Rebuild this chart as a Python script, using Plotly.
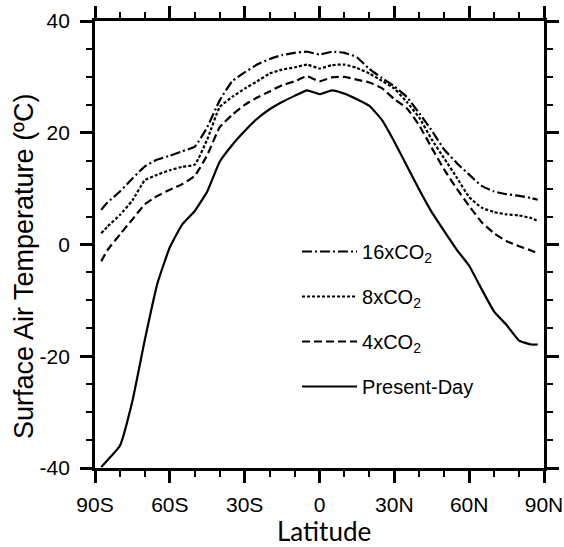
import plotly.graph_objects as go

lat = [-87.5, -85, -80, -75, -70, -65, -60, -55, -50, -45, -40, -35, -30, -25, -20, -15, -10, -5, 0,
       5, 10, 15, 20, 25, 30, 35, 40, 45, 50, 55, 60, 65, 70, 75, 80, 85, 87.5]

present_day = [-39.8, -38.6, -36.0, -28.0, -17.0, -7.0, -0.5, 3.6, 6.0, 9.5, 14.8, 17.8, 20.3, 22.5, 24.2,
               25.5, 26.6, 27.6, 26.9, 27.6, 27.0, 26.0, 24.8, 22.3, 18.4, 14.1, 9.8, 5.8, 2.4, -0.9,
               -3.8, -8.0, -12.0, -14.4, -17.2, -17.9, -17.9]
co2_4x = [-3.0, -1.0, 1.8, 4.5, 7.2, 8.7, 9.8, 10.8, 12.3, 16.0, 21.0, 23.2, 25.0, 26.3, 27.4, 28.5,
          29.2, 30.1, 29.2, 29.9, 30.0, 29.5, 29.0, 28.0, 26.0, 24.4, 21.3, 17.3, 13.4, 10.0, 6.9,
          4.0, 2.0, 0.6, -0.3, -1.1, -1.6]
co2_8x = [2.0, 3.2, 5.3, 7.9, 11.5, 12.5, 13.3, 13.9, 14.3, 18.8, 24.6, 26.4, 27.9, 29.2, 30.6, 31.3,
          31.7, 32.2, 31.5, 32.1, 32.2, 31.6, 30.6, 29.3, 27.9, 25.5, 22.7, 18.8, 15.4, 12.0, 8.5,
          6.6, 5.8, 5.4, 5.2, 4.7, 4.2]
co2_16x = [6.2, 7.5, 9.5, 11.8, 14.0, 15.2, 15.9, 16.7, 17.5, 21.0, 25.8, 29.2, 30.8, 32.2, 33.2, 33.9,
           34.3, 34.5, 34.0, 34.5, 34.3, 33.5, 31.4, 29.8, 28.3, 26.4, 23.5, 20.4, 17.0, 14.6, 12.5,
           10.5, 9.5, 9.0, 8.7, 8.3, 8.0]

series_names = ["16xCO<sub>2</sub>", "8xCO<sub>2</sub>", "4xCO<sub>2</sub>", "Present-Day"]
x_tickvals = [-90, -60, -30, 0, 30, 60, 90]
x_ticktext = ["90S", "60S", "30S", "0", "30N", "60N", "90N"]
y_tickvals = [-40, -20, 0, 20, 40]
y_ticktext = ["-40", "-20", "0", "20", "40"]

series = [co2_16x, co2_8x, co2_4x, present_day]
dashes = ["10px,3px,2px,3px", "3px,2px", "8px,4px", "solid"]

fig = go.Figure()
for i, (name, vals, dash) in enumerate(zip(series_names, series, dashes)):
    fig.add_trace(go.Scatter(x=lat, y=vals, mode="lines", name=name, legendgroup=f"g{i}",
                             line=dict(color="black", width=2.2, dash=dash, shape="spline", smoothing=0.4)))

tick_font = dict(family="Liberation Sans, Arial", size=21, color="black")
axis_common = dict(showline=True, linecolor="black", linewidth=2.8, mirror="ticks", ticks="outside",
                   tickcolor="black", tickwidth=2.5, ticklen=12, showgrid=False, zeroline=False,
                   automargin=False, tickfont=tick_font)

fig.update_xaxes(range=[-90, 90], tickvals=x_tickvals, ticktext=x_ticktext, ticklabelstandoff=4,
                 minor=dict(dtick=10, ticks="outside", ticklen=6, tickwidth=1.8, tickcolor="black", showgrid=False),
                 **axis_common)
fig.update_yaxes(range=[-40, 40], tickvals=y_tickvals, ticktext=y_ticktext, ticklabelstandoff=6,
                 minor=dict(dtick=5, ticks="outside", ticklen=6, tickwidth=1.8, tickcolor="black", showgrid=False),
                 **axis_common)

fig.add_annotation(text="Surface Air Temperature (ºC)", xref="paper", yref="paper", x=-0.158, y=0.452,
                   textangle=-90, showarrow=False, xanchor="center", yanchor="middle",
                   font=dict(family="Liberation Sans, Arial", size=27, color="black"))
fig.add_annotation(text="Latitude", xref="paper", yref="paper", x=0.51, y=-0.14,
                   showarrow=False, xanchor="center", yanchor="middle",
                   font=dict(family="Lato", size=26, color="black"))

fig.update_layout(
    width=564, height=547,
    margin=dict(l=95, r=20, t=21, b=79),
    paper_bgcolor="white", plot_bgcolor="white",
    legend=dict(x=0.45, y=0.528, xanchor="left", yanchor="top", traceorder="grouped", tracegroupgap=16,
                itemwidth=55, bgcolor="rgba(0,0,0,0)",
                font=dict(family="Liberation Sans, Arial", size=20, color="black")),
)

fig.write_html("out.html", config={"displayModeBar": False},
               post_script="document.body.style.margin='0';document.body.style.overflow='hidden';")
